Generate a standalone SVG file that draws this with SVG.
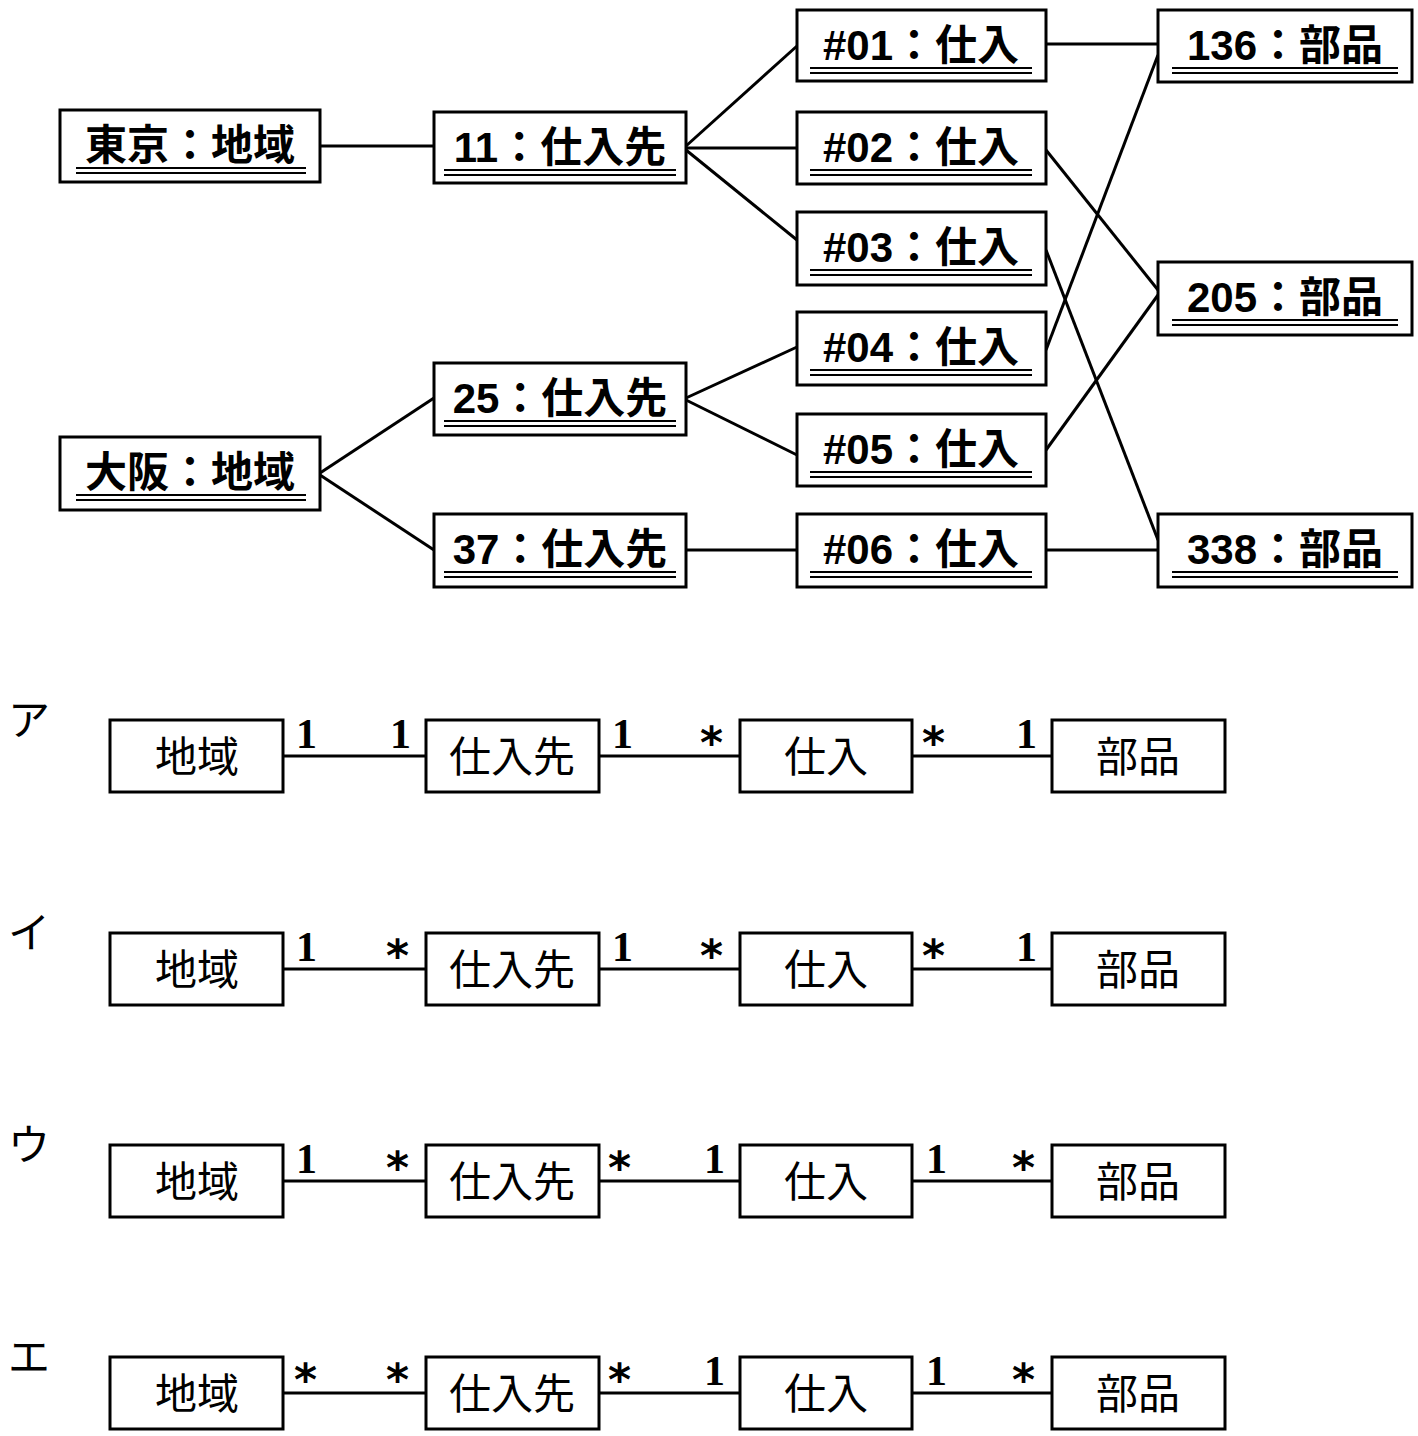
<svg xmlns="http://www.w3.org/2000/svg" width="1418" height="1436" viewBox="0 0 1418 1436">
<style>
.b{fill:#fff;stroke:#000;stroke-width:3}
.t{font-family:"Liberation Sans","Noto Sans CJK JP",sans-serif;font-size:42px;text-anchor:middle;fill:#000}
#top .t{font-weight:bold}
.u{stroke:#000;stroke-width:2}
.c line{stroke:#000;stroke-width:3}
.m{font-family:"Liberation Serif","Noto Sans CJK JP",serif;font-size:42px;font-weight:bold;fill:#000}
.s{font-family:"DejaVu Sans",sans-serif;font-size:44px;font-weight:bold;fill:#000}
.k{font-family:"Noto Sans CJK JP",sans-serif;font-size:42px;fill:#000}
</style>
<rect width="1418" height="1436" fill="#fff"/>
<g class="c" id="connectors">
<line x1="320" y1="146" x2="434" y2="146"/>
<line x1="686" y1="146" x2="797" y2="46"/>
<line x1="686" y1="148" x2="797" y2="148"/>
<line x1="686" y1="150" x2="797" y2="240"/>
<line x1="320" y1="473" x2="434" y2="398"/>
<line x1="320" y1="475" x2="434" y2="550"/>
<line x1="686" y1="398" x2="797" y2="347"/>
<line x1="686" y1="400" x2="797" y2="455"/>
<line x1="686" y1="550" x2="797" y2="550"/>
<line x1="1046" y1="44" x2="1158" y2="44"/>
<line x1="1046" y1="150" x2="1158" y2="290"/>
<line x1="1046" y1="250" x2="1158" y2="540"/>
<line x1="1046" y1="350" x2="1158" y2="55"/>
<line x1="1046" y1="450" x2="1158" y2="295"/>
<line x1="1046" y1="550" x2="1158" y2="550"/>
<line x1="283" y1="756" x2="426" y2="756"/><line x1="599" y1="756" x2="740" y2="756"/><line x1="912" y1="756" x2="1052" y2="756"/>
<line x1="283" y1="969" x2="426" y2="969"/><line x1="599" y1="969" x2="740" y2="969"/><line x1="912" y1="969" x2="1052" y2="969"/>
<line x1="283" y1="1181" x2="426" y2="1181"/><line x1="599" y1="1181" x2="740" y2="1181"/><line x1="912" y1="1181" x2="1052" y2="1181"/>
<line x1="283" y1="1393" x2="426" y2="1393"/><line x1="599" y1="1393" x2="740" y2="1393"/><line x1="912" y1="1393" x2="1052" y2="1393"/>
</g>
<g id="top">
<g id="tokyo"><rect class="b" x="60" y="110" width="260" height="72"/><text class="t" x="190" y="160">東京：地域</text><line class="u" x1="76" y1="168" x2="306" y2="168"/><line class="u" x1="76" y1="173" x2="306" y2="173"/></g>
<g id="osaka"><rect class="b" x="60" y="437" width="260" height="73"/><text class="t" x="190" y="487">大阪：地域</text><line class="u" x1="76" y1="495" x2="306" y2="495"/><line class="u" x1="76" y1="500" x2="306" y2="500"/></g>
<g id="s11"><rect class="b" x="434" y="112" width="252" height="71"/><text class="t" x="560" y="162">11：仕入先</text><line class="u" x1="444" y1="170" x2="676" y2="170"/><line class="u" x1="444" y1="175" x2="676" y2="175"/></g>
<g id="s25"><rect class="b" x="434" y="363" width="252" height="72"/><text class="t" x="560" y="413">25：仕入先</text><line class="u" x1="444" y1="421" x2="676" y2="421"/><line class="u" x1="444" y1="426" x2="676" y2="426"/></g>
<g id="s37"><rect class="b" x="434" y="514" width="252" height="73"/><text class="t" x="560" y="564">37：仕入先</text><line class="u" x1="444" y1="572" x2="676" y2="572"/><line class="u" x1="444" y1="577" x2="676" y2="577"/></g>
<g id="p01"><rect class="b" x="797" y="10" width="249" height="71"/><text class="t" x="921" y="60">#01：仕入</text><line class="u" x1="810" y1="68" x2="1032" y2="68"/><line class="u" x1="810" y1="73" x2="1032" y2="73"/></g>
<g id="p02"><rect class="b" x="797" y="112" width="249" height="72"/><text class="t" x="921" y="162">#02：仕入</text><line class="u" x1="810" y1="170" x2="1032" y2="170"/><line class="u" x1="810" y1="175" x2="1032" y2="175"/></g>
<g id="p03"><rect class="b" x="797" y="212" width="249" height="73"/><text class="t" x="921" y="262">#03：仕入</text><line class="u" x1="810" y1="270" x2="1032" y2="270"/><line class="u" x1="810" y1="275" x2="1032" y2="275"/></g>
<g id="p04"><rect class="b" x="797" y="312" width="249" height="73"/><text class="t" x="921" y="362">#04：仕入</text><line class="u" x1="810" y1="370" x2="1032" y2="370"/><line class="u" x1="810" y1="375" x2="1032" y2="375"/></g>
<g id="p05"><rect class="b" x="797" y="414" width="249" height="72"/><text class="t" x="921" y="464">#05：仕入</text><line class="u" x1="810" y1="472" x2="1032" y2="472"/><line class="u" x1="810" y1="477" x2="1032" y2="477"/></g>
<g id="p06"><rect class="b" x="797" y="514" width="249" height="73"/><text class="t" x="921" y="564">#06：仕入</text><line class="u" x1="810" y1="572" x2="1032" y2="572"/><line class="u" x1="810" y1="577" x2="1032" y2="577"/></g>
<g id="b136"><rect class="b" x="1158" y="10" width="254" height="72"/><text class="t" x="1285" y="60">136：部品</text><line class="u" x1="1172" y1="68" x2="1398" y2="68"/><line class="u" x1="1172" y1="73" x2="1398" y2="73"/></g>
<g id="b205"><rect class="b" x="1158" y="262" width="254" height="73"/><text class="t" x="1285" y="312">205：部品</text><line class="u" x1="1172" y1="320" x2="1398" y2="320"/><line class="u" x1="1172" y1="325" x2="1398" y2="325"/></g>
<g id="b338"><rect class="b" x="1158" y="514" width="254" height="73"/><text class="t" x="1285" y="564">338：部品</text><line class="u" x1="1172" y1="572" x2="1398" y2="572"/><line class="u" x1="1172" y1="577" x2="1398" y2="577"/></g>
</g>
<g id="rowA"><text class="k" x="8" y="735">ア</text>
<rect class="b" x="110" y="720" width="173" height="72"/><text class="t" x="197" y="772">地域</text>
<rect class="b" x="426" y="720" width="173" height="72"/><text class="t" x="512" y="772">仕入先</text>
<rect class="b" x="740" y="720" width="172" height="72"/><text class="t" x="826" y="772">仕入</text>
<rect class="b" x="1052" y="720" width="173" height="72"/><text class="t" x="1138" y="772">部品</text>
<text class="m" x="296" y="748">1</text><text class="m" x="390" y="748">1</text><text class="m" x="612" y="748">1</text><text class="s" x="700" y="758">*</text><text class="s" x="922" y="758">*</text><text class="m" x="1016" y="748">1</text></g>
<g id="rowI"><text class="k" x="8" y="948">イ</text>
<rect class="b" x="110" y="933" width="173" height="72"/><text class="t" x="197" y="985">地域</text>
<rect class="b" x="426" y="933" width="173" height="72"/><text class="t" x="512" y="985">仕入先</text>
<rect class="b" x="740" y="933" width="172" height="72"/><text class="t" x="826" y="985">仕入</text>
<rect class="b" x="1052" y="933" width="173" height="72"/><text class="t" x="1138" y="985">部品</text>
<text class="m" x="296" y="961">1</text><text class="s" x="386" y="971">*</text><text class="m" x="612" y="961">1</text><text class="s" x="700" y="971">*</text><text class="s" x="922" y="971">*</text><text class="m" x="1016" y="961">1</text></g>
<g id="rowU"><text class="k" x="8" y="1160">ウ</text>
<rect class="b" x="110" y="1145" width="173" height="72"/><text class="t" x="197" y="1197">地域</text>
<rect class="b" x="426" y="1145" width="173" height="72"/><text class="t" x="512" y="1197">仕入先</text>
<rect class="b" x="740" y="1145" width="172" height="72"/><text class="t" x="826" y="1197">仕入</text>
<rect class="b" x="1052" y="1145" width="173" height="72"/><text class="t" x="1138" y="1197">部品</text>
<text class="m" x="296" y="1173">1</text><text class="s" x="386" y="1183">*</text><text class="s" x="608" y="1183">*</text><text class="m" x="704" y="1173">1</text><text class="m" x="926" y="1173">1</text><text class="s" x="1012" y="1183">*</text></g>
<g id="rowE"><text class="k" x="8" y="1372">エ</text>
<rect class="b" x="110" y="1357" width="173" height="72"/><text class="t" x="197" y="1409">地域</text>
<rect class="b" x="426" y="1357" width="173" height="72"/><text class="t" x="512" y="1409">仕入先</text>
<rect class="b" x="740" y="1357" width="172" height="72"/><text class="t" x="826" y="1409">仕入</text>
<rect class="b" x="1052" y="1357" width="173" height="72"/><text class="t" x="1138" y="1409">部品</text>
<text class="s" x="294" y="1395">*</text><text class="s" x="386" y="1395">*</text><text class="s" x="608" y="1395">*</text><text class="m" x="704" y="1385">1</text><text class="m" x="926" y="1385">1</text><text class="s" x="1012" y="1395">*</text></g>
</svg>
